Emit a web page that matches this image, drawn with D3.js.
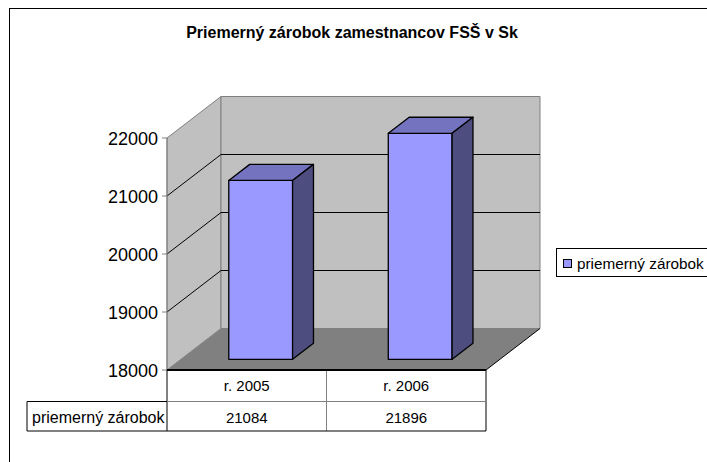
<!DOCTYPE html>
<html>
<head>
<meta charset="utf-8">
<script src="https://cdn.jsdelivr.net/npm/d3@7"></script>
<style>
  body { margin: 0; background: #fff; }
  text { font-family: "Liberation Sans", Arial, sans-serif; }
</style>
</head>
<body>
<svg id="chart" width="707" height="462"></svg>
<script>
// data
var categories = ["r. 2005", "r. 2006"];
var values = [21084, 21896];
var seriesName = "priemerný zárobok";
var yTicks = [18000, 19000, 20000, 21000, 22000];
var title = "Priemerný zárobok zamestnancov FSŠ v Sk";

var svg = d3.select("#chart"),
    pLeft = 167, pRight = 486,   // front plane
    pTop = 138, pBottom = 370,
    DX = 54, DY = 41.5;          // depth of the 3d box

var x = d3.scaleBand().domain(categories).range([pLeft, pRight])
    .paddingInner(0.6).paddingOuter(0.3);
var y = d3.scaleLinear().domain([18000, 22000]).range([pBottom, pTop]);

// project a point of the front plane back by depth fraction f
function p(px, py, f) { return [px + f * DX, py - f * DY]; }
function poly(pts) { return "M" + pts.map(function(d) { return d.join(","); }).join("L") + "Z"; }

// outer border
svg.append("rect").attr("x", 9.5).attr("y", 8.5).attr("width", 720).attr("height", 480)
    .attr("fill", "none").attr("stroke", "#000");

// title
svg.append("text").attr("x", 352).attr("y", 38).attr("text-anchor", "middle")
    .style("font-weight", "bold").style("font-size", "16px").text(title);

// walls
var g = svg.append("g");
g.append("path").attr("d", poly([p(pLeft, pBottom, 0), p(pLeft, pTop, 0), p(pLeft, pTop, 1), p(pLeft, pBottom, 1)]))
    .attr("fill", "#c0c0c0").attr("stroke", "#808080");
g.append("path").attr("d", poly([p(pLeft, pBottom, 1), p(pLeft, pTop, 1), p(pRight, pTop, 1), p(pRight, pBottom, 1)]))
    .attr("fill", "#c0c0c0").attr("stroke", "#808080");
g.append("path").attr("d", poly([p(pLeft, pBottom, 0), p(pRight, pBottom, 0), p(pRight, pBottom, 1), p(pLeft, pBottom, 1)]))
    .attr("fill", "#808080").attr("stroke", "none");

// gridlines on side + back wall
yTicks.filter(function(t) { return t > 18000 && t < 22000; }).forEach(function(t) {
    var a = p(pLeft, y(t), 0), b = p(pLeft, y(t), 1), c = p(pRight, y(t), 1);
    g.append("path").attr("d", "M" + a + "L" + b + "L" + c)
        .attr("fill", "none").attr("stroke", "#000");
});
// floor right edge
var fr = p(pRight, pBottom, 1);
g.append("line").attr("x1", pRight).attr("y1", pBottom).attr("x2", fr[0]).attr("y2", fr[1])
    .attr("stroke", "#000");

// axis
g.append("line").attr("x1", pLeft).attr("x2", pLeft).attr("y1", pTop).attr("y2", pBottom).attr("stroke", "#808080");
yTicks.forEach(function(t) {
    g.append("line").attr("x1", pLeft - 5).attr("x2", pLeft).attr("y1", y(t)).attr("y2", y(t)).attr("stroke", "#808080");
    g.append("text").attr("x", pLeft - 9).attr("y", y(t) + 6.5).attr("text-anchor", "end")
        .style("font-size", "18px").text(t);
});

// bars
var f0 = 0.258, f1 = 0.645;
var bars = svg.append("g").selectAll("g").data(values).enter().append("g")
    .attr("stroke", "#000").attr("stroke-width", 1.3).attr("stroke-linejoin", "round");
bars.append("path").attr("fill", "#9999ff").attr("d", function(d, i) {
    var x0 = x(categories[i]), x1 = x0 + x.bandwidth();
    return poly([p(x0, y(18000), f0), p(x0, y(d), f0), p(x1, y(d), f0), p(x1, y(18000), f0)]);
});
bars.append("path").attr("fill", "#7373bf").attr("d", function(d, i) {
    var x0 = x(categories[i]), x1 = x0 + x.bandwidth();
    return poly([p(x0, y(d), f0), p(x0, y(d), f1), p(x1, y(d), f1), p(x1, y(d), f0)]);
});
bars.append("path").attr("fill", "#4d4d80").attr("d", function(d, i) {
    var x1 = x(categories[i]) + x.bandwidth();
    return poly([p(x1, y(18000), f0), p(x1, y(d), f0), p(x1, y(d), f1), p(x1, y(18000), f1)]);
});

// data table
var step = x.step(), r1 = pBottom, r2 = 401.5, r3 = 431, labelLeft = 27;
var t = svg.append("g");
t.append("line").attr("x1", pLeft).attr("x2", pLeft).attr("y1", r1).attr("y2", r3).attr("stroke", "#000");
t.append("line").attr("x1", labelLeft).attr("x2", labelLeft).attr("y1", r2).attr("y2", r3).attr("stroke", "#000");
t.append("line").attr("x1", pRight).attr("x2", pRight).attr("y1", r1).attr("y2", r3).attr("stroke", "#000");
t.append("line").attr("x1", pLeft + step).attr("x2", pLeft + step).attr("y1", r1).attr("y2", r3).attr("stroke", "#808080");
t.append("line").attr("x1", labelLeft).attr("x2", pLeft).attr("y1", r2).attr("y2", r2).attr("stroke", "#000");
t.append("line").attr("x1", pLeft).attr("x2", pRight).attr("y1", r2).attr("y2", r2).attr("stroke", "#808080");
t.append("line").attr("x1", labelLeft).attr("x2", pRight).attr("y1", r3).attr("y2", r3).attr("stroke", "#000");
t.append("line").attr("x1", pLeft).attr("x2", pRight).attr("y1", r1).attr("y2", r1).attr("stroke", "#000").attr("stroke-width", 2);
categories.forEach(function(c, i) {
    var cx = pLeft + step * (i + 0.5);
    t.append("text").attr("x", cx).attr("y", r1 + 21).attr("text-anchor", "middle").style("font-size", "15px").text(c);
    t.append("text").attr("x", cx).attr("y", r2 + 21).attr("text-anchor", "middle").style("font-size", "15px").text(values[i]);
});
t.append("text").attr("x", labelLeft + 5).attr("y", r2 + 21).style("font-size", "16px").text(seriesName);

// legend
var lg = svg.append("g");
lg.append("rect").attr("x", 556.5).attr("y", 248.5).attr("width", 200).attr("height", 28)
    .attr("fill", "#fff").attr("stroke", "#000");
lg.append("rect").attr("x", 563.5).attr("y", 259.5).attr("width", 8).attr("height", 8)
    .attr("fill", "#9999ff").attr("stroke", "#000");
lg.append("text").attr("x", 577).attr("y", 269).style("font-size", "15.3px").text(seriesName);
</script>
</body>
</html>
